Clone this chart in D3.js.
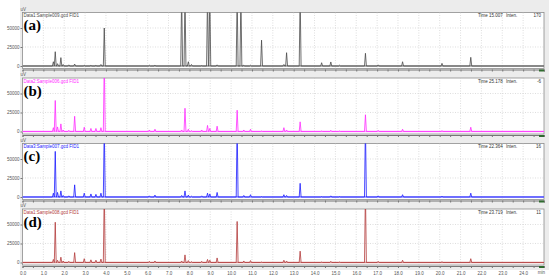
<!DOCTYPE html>
<html>
<head>
<meta charset="utf-8">
<title>Chromatograms</title>
<script src="https://cdn.jsdelivr.net/npm/d3@7/dist/d3.min.js"></script>
<style>
  body { margin: 0; background: #fff; }
  svg { display: block; font-family: "Liberation Sans", Arial, sans-serif; }
  .tick text { font-size: 4.5px; fill: #555; }
  .hdr { font-size: 4.5px; }
  .lbl { font-family: "Liberation Serif", "DejaVu Serif", serif; font-weight: bold; font-size: 15px; fill: #000; }
</style>
</head>
<body>
<div id="chart"></div>
<script>
// retention times (min) shared by all four runs
var peakTimes = [1.48, 1.57, 1.68, 1.84, 1.95, 2.22, 2.50, 2.96, 3.28, 3.52, 3.76, 3.92,
  6.08, 6.35, 7.63, 7.79, 7.95, 8.10, 8.59, 8.87, 8.98, 9.33, 10.29, 10.47, 10.61, 10.93,
  11.46, 12.53, 12.66, 13.31, 14.34, 14.78, 15.20, 16.44, 17.05, 18.22, 20.11, 21.49];

// peak heights (uV) per run, same order as peakTimes
var heightsA = [5600, 18800, 3000, 11000, 2000, 1500, 2600, 1000, 800, 800, 2000, 50000,
  1000, 1000, 95000, 95000, 5600, 2000, 500, 95000, 95000, 1500, 95000, 95000, 1000, 1000,
  34000, 2000, 17500, 95000, 4300, 5300, 1000, 16700, 1500, 5600, 3500, 11400];
var heightsB = [5000, 40800, 6000, 10000, 2000, 1500, 20000, 5600, 4000, 4000, 5000, 95000,
  2000, 3000, 2000, 30600, 3000, 1000, 2000, 8000, 4000, 7000, 28000, 0, 2000, 3000,
  500, 5000, 2000, 12700, 500, 1500, 500, 22000, 1500, 3000, 1000, 5600];
var heightsC = [5000, 60000, 6000, 8000, 2000, 1500, 16000, 5000, 4000, 3500, 5000, 95000,
  1500, 2500, 2000, 8000, 2500, 1000, 1500, 5000, 4000, 6000, 95000, 0, 2000, 3000,
  500, 3000, 2000, 18000, 500, 1500, 500, 95000, 1500, 3000, 1000, 5000];
var heightsD = [4000, 53000, 3000, 7000, 2000, 1500, 13000, 5000, 3500, 3000, 4500, 95000,
  1500, 2000, 2000, 10000, 2500, 1000, 1500, 4000, 3000, 6000, 54000, 0, 2000, 2500,
  500, 3000, 2000, 14900, 500, 1500, 500, 95000, 1500, 3000, 1000, 5000];

var runLabels = ['(a)', '(b)', '(c)', '(d)'];
var fileNames = ['Data1:Sample009.gcd FID1', 'Data2:Sample006.gcd FID1',
  'Data3:Sample007.gcd FID1', 'Data1:Sample008.gcd FID1'];
var cursorTimes = ['15.007', '25.178', '22.364', '23.719'];
var cursorInten = ['170', '-6', '16', '11'];
var yTicks = [0, 25000, 50000];
var xLabels = d3.range(0, 25, 1);

var runs = [heightsA, heightsB, heightsC, heightsD];
var colors = ['#4a4a4a', '#ff2bff', '#1a1aff', '#b23a3a'];
var baseColors = ['#9a9a9a', '#ff9cff', '#8a8aff', '#d99a9a'];

var width = 550, height = 277;
var panelTops = [12.5, 78, 143.5, 209];
var plotH = 56;
var halfWidth = 0.045; // half width of a peak at its base, min

var svg = d3.select('#chart').append('svg')
  .attr('width', width).attr('height', height);

var x = d3.scaleLinear().domain([0, 25]).range([22.5, 544]);

// grey window background
svg.append('rect')
  .attr('x', 20).attr('y', 0).attr('width', 529).attr('height', 270)
  .attr('fill', '#ececec');

runs.forEach(function(h, k) {
  var top = panelTops[k];
  var y = d3.scaleLinear().domain([-3300, 70400]).range([top + plotH, top]);
  var g = svg.append('g');

  g.append('rect')
    .attr('x', x(0)).attr('y', top)
    .attr('width', x(25) - x(0)).attr('height', plotH)
    .attr('fill', '#fff').attr('stroke', '#8c8c8c').attr('stroke-width', 0.8);

  // dotted grid
  g.selectAll('.vg').data(d3.range(1, 25)).enter().append('line')
    .attr('x1', function(d) { return x(d); }).attr('x2', function(d) { return x(d); })
    .attr('y1', top).attr('y2', top + plotH)
    .attr('stroke', '#c8c8c8').attr('stroke-width', 0.6).attr('stroke-dasharray', '1,1.5');
  g.selectAll('.hg').data([25000, 50000]).enter().append('line')
    .attr('x1', x(0)).attr('x2', x(25))
    .attr('y1', function(d) { return y(d); }).attr('y2', function(d) { return y(d); })
    .attr('stroke', '#c8c8c8').attr('stroke-width', 0.6).attr('stroke-dasharray', '1,1.5');

  // y axis
  var ya = g.append('g')
    .attr('transform', 'translate(' + x(0) + ',0)')
    .call(d3.axisLeft(y).tickValues(yTicks).tickFormat(d3.format('d')).tickSize(2).tickPadding(1));
  ya.select('.domain').remove();
  ya.selectAll('line').attr('stroke', '#777');

  g.append('text').attr('class', 'hdr')
    .attr('x', x(0) - 2).attr('y', top - 2).attr('fill', '#555').text('uV');

  // x ruler under each panel
  var xa = g.append('g')
    .attr('transform', 'translate(0,' + (top + plotH + 1) + ')')
    .call(d3.axisBottom(x).tickValues(d3.range(0, 25.01, 0.5)).tickSize(2)
      .tickFormat(function(d) { return (k === 3 && xLabels.indexOf(d) >= 0) ? d.toFixed(1) : ''; }));
  xa.select('.domain').attr('stroke', '#777');
  xa.selectAll('line').attr('stroke', '#777');
  if (k === 3) {
    xa.selectAll('text').attr('dy', '0.9em');
    g.append('text').attr('class', 'hdr').attr('fill', '#555')
      .attr('x', 541.5).attr('y', top + plotH + 8.5).attr('text-anchor', 'middle').text('min');
  }
  // scroll marker at the right end of the ruler
  g.append('rect').attr('x', 539).attr('y', top + plotH + 1).attr('width', 5).attr('height', 2)
    .attr('fill', '#2f6b2f');

  // clip
  var cid = 'clip' + k;
  g.append('clipPath').attr('id', cid).append('rect')
    .attr('x', x(0)).attr('y', top).attr('width', x(25) - x(0)).attr('height', plotH);

  // baseline band
  g.append('line')
    .attr('x1', x(0)).attr('x2', x(25))
    .attr('y1', y(0)).attr('y2', y(0))
    .attr('stroke', baseColors[k]).attr('stroke-width', 1.6);

  // peaks as spikes: baseline -> apex -> baseline
  var pts = [[0, 0]];
  peakTimes.forEach(function(t, i) {
    if (h[i] <= 0) return;
    pts.push([t - halfWidth, 0], [t, h[i]], [t + halfWidth, 0]);
  });
  pts.push([25, 0]);
  var line = d3.line().x(function(d) { return x(d[0]); }).y(function(d) { return y(d[1]); });
  g.append('path')
    .attr('clip-path', 'url(#' + cid + ')')
    .attr('d', line(pts))
    .attr('fill', 'none').attr('stroke', colors[k]).attr('stroke-width', 0.8);

  // header texts
  g.append('text').attr('class', 'hdr')
    .attr('x', x(0) + 1).attr('y', top + 4.5).attr('fill', colors[k]).text(fileNames[k]);
  g.append('text').attr('class', 'hdr').attr('fill', '#333')
    .attr('x', 478).attr('y', top + 4.5).text('Time   ' + cursorTimes[k]);
  g.append('text').attr('class', 'hdr').attr('fill', '#333')
    .attr('x', 506).attr('y', top + 4.5).text('Inten.');
  g.append('text').attr('class', 'hdr').attr('fill', '#333')
    .attr('x', 541).attr('y', top + 4.5).attr('text-anchor', 'end').text(cursorInten[k]);

  g.append('text').attr('class', 'lbl')
    .attr('x', 23.5).attr('y', top + 17.5).text(runLabels[k]);
});
</script>
</body>
</html>
